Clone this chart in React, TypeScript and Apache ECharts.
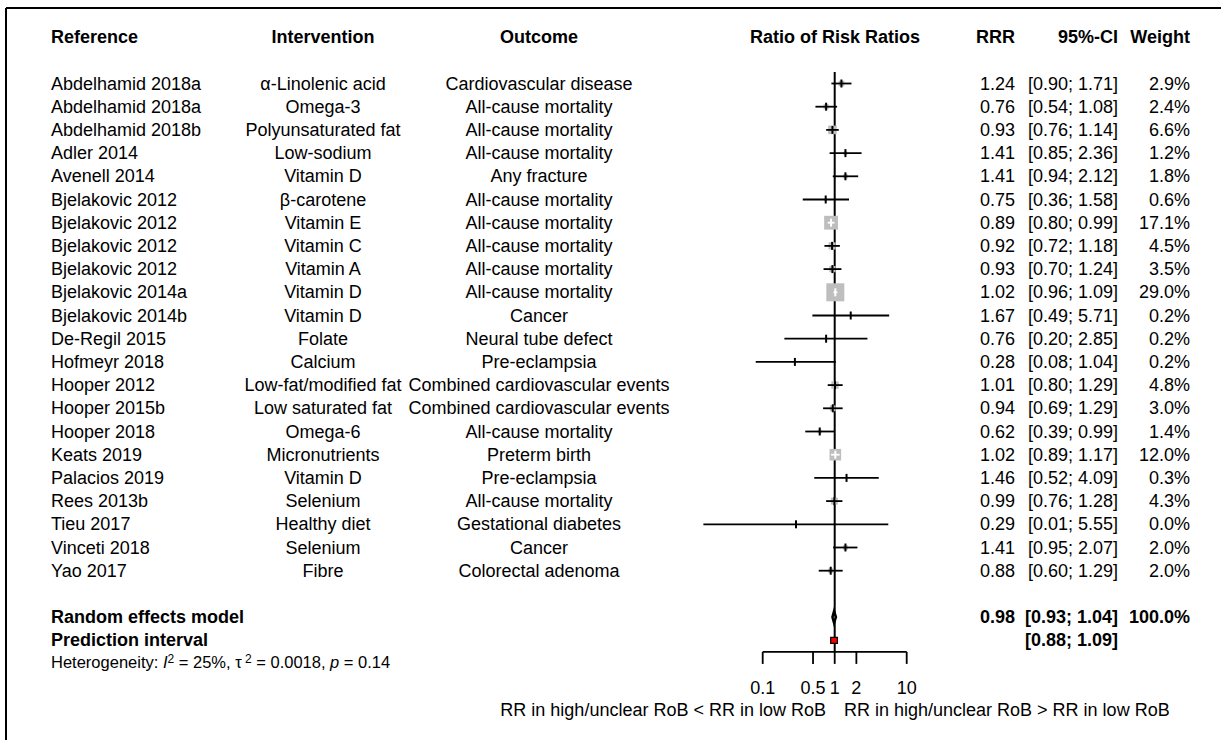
import React, { useEffect, useRef } from "react";
import * as echarts from "echarts";

// ---------- data ----------
const references = [
  "Abdelhamid 2018a", "Abdelhamid 2018a", "Abdelhamid 2018b", "Adler 2014", "Avenell 2014",
  "Bjelakovic 2012", "Bjelakovic 2012", "Bjelakovic 2012", "Bjelakovic 2012", "Bjelakovic 2014a",
  "Bjelakovic 2014b", "De-Regil 2015", "Hofmeyr 2018", "Hooper 2012", "Hooper 2015b",
  "Hooper 2018", "Keats 2019", "Palacios 2019", "Rees 2013b", "Tieu 2017", "Vinceti 2018", "Yao 2017",
];
const interventions = [
  "α-Linolenic acid", "Omega-3", "Polyunsaturated fat", "Low-sodium", "Vitamin D",
  "β-carotene", "Vitamin E", "Vitamin C", "Vitamin A", "Vitamin D",
  "Vitamin D", "Folate", "Calcium", "Low-fat/modified fat", "Low saturated fat",
  "Omega-6", "Micronutrients", "Vitamin D", "Selenium", "Healthy diet", "Selenium", "Fibre",
];
const outcomes = [
  "Cardiovascular disease", "All-cause mortality", "All-cause mortality", "All-cause mortality", "Any fracture",
  "All-cause mortality", "All-cause mortality", "All-cause mortality", "All-cause mortality", "All-cause mortality",
  "Cancer", "Neural tube defect", "Pre-eclampsia", "Combined cardiovascular events", "Combined cardiovascular events",
  "All-cause mortality", "Preterm birth", "Pre-eclampsia", "All-cause mortality", "Gestational diabetes", "Cancer", "Colorectal adenoma",
];
const rrr = [1.24, 0.76, 0.93, 1.41, 1.41, 0.75, 0.89, 0.92, 0.93, 1.02, 1.67, 0.76, 0.28, 1.01, 0.94, 0.62, 1.02, 1.46, 0.99, 0.29, 1.41, 0.88];
const ciLower = [0.90, 0.54, 0.76, 0.85, 0.94, 0.36, 0.80, 0.72, 0.70, 0.96, 0.49, 0.20, 0.08, 0.80, 0.69, 0.39, 0.89, 0.52, 0.76, 0.015, 0.95, 0.60];
const ciUpper = [1.71, 1.08, 1.14, 2.36, 2.12, 1.58, 0.99, 1.18, 1.24, 1.09, 5.71, 2.85, 1.04, 1.29, 1.29, 0.99, 1.17, 4.09, 1.28, 5.55, 2.07, 1.29];
const weights = [2.9, 2.4, 6.6, 1.2, 1.8, 0.6, 17.1, 4.5, 3.5, 29.0, 0.2, 0.2, 0.2, 4.8, 3.0, 1.4, 12.0, 0.3, 4.3, 0.0, 2.0, 2.0];

const pooledEstimate = 0.98;
const pooledCI = [0.93, 1.04];
const pooledWeight = 100.0;
const predictionInterval = [0.88, 1.09];
const heterogeneityI2 = "25%";
const heterogeneityTau2 = "0.0018";
const heterogeneityP = "0.14";

const axisTicks = [0.1, 0.5, 1, 2, 10];
const axisTickLabels = ["0.1", "0.5", "1", "2", "10"];
const headers = ["Reference", "Intervention", "Outcome", "Ratio of Risk Ratios", "RRR", "95%-CI", "Weight"];
const labelLeft = "RR in high/unclear RoB < RR in low RoB";
const labelRight = "RR in high/unclear RoB > RR in low RoB";

// ---------- layout ----------
const FONT = "'Liberation Sans', Arial, Helvetica, sans-serif";
const FS = 18;
const ROW_H = 23.2;
const GRID_TOP = 60.3;
const N_ROWS = 26;
const RANDOM_ROW = 24;
const PRED_ROW = 25;
const AXIS_ROW = 25.5;
const X_REF = 51;
const X_INT = 323;
const X_OUT = 539;
const X_PLOT = 835;
const X_RRR = 1015;
const X_CI = 1118;
const X_W = 1190;
const SQ_MAX = 18;
const W_MAX = 29.0;

const fmt2 = (v: number) => v.toFixed(2);
const fmtCI = (l: number, h: number) => `[${fmt2(l)}; ${fmt2(h)}]`;

function txt(text: string, x: number, y: number, align: string, bold = false, size = FS) {
  return {
    type: "text",
    x,
    y,
    silent: true,
    style: {
      text,
      fill: "#000",
      fontSize: size,
      fontFamily: FONT,
      fontWeight: bold ? "bold" : "normal",
      align,
      verticalAlign: "middle",
      textAlign: align,
      textVerticalAlign: "middle",
    },
  };
}

function buildOption() {
  const rowY = (r: number) => GRID_TOP + r * ROW_H;
  const studyData = references.map((_, i) => [rrr[i], i + 1, ciLower[i], ciUpper[i], weights[i]]);

  return {
    animation: false,
    backgroundColor: "#fff",
    grid: { left: 690.7, width: 288, top: GRID_TOP, height: N_ROWS * ROW_H },
    xAxis: { type: "log", logBase: 10, min: 0.01, max: 100, show: false },
    yAxis: { type: "value", min: 0, max: N_ROWS, inverse: true, show: false },
    graphic: [
      { type: "line", shape: { x1: 6, y1: 8, x2: 1221, y2: 8 }, style: { stroke: "#000", lineWidth: 2 } },
      { type: "line", shape: { x1: 6, y1: 8, x2: 6, y2: 740 }, style: { stroke: "#000", lineWidth: 2 } },
      txt(headers[0], X_REF, rowY(-1), "left", true),
      txt(headers[1], X_INT, rowY(-1), "center", true),
      txt(headers[2], X_OUT, rowY(-1), "center", true),
      txt(headers[3], X_PLOT, rowY(-1), "center", true),
      txt(headers[4], X_RRR, rowY(-1), "right", true),
      txt(headers[5], X_CI, rowY(-1), "right", true),
      txt(headers[6], X_W, rowY(-1), "right", true),
      txt("Random effects model", X_REF, rowY(RANDOM_ROW), "left", true),
      txt(fmt2(pooledEstimate), X_RRR, rowY(RANDOM_ROW), "right", true),
      txt(fmtCI(pooledCI[0], pooledCI[1]), X_CI, rowY(RANDOM_ROW), "right", true),
      txt(pooledWeight.toFixed(1) + "%", X_W, rowY(RANDOM_ROW), "right", true),
      txt("Prediction interval", X_REF, rowY(PRED_ROW), "left", true),
      txt(fmtCI(predictionInterval[0], predictionInterval[1]), X_CI, rowY(PRED_ROW), "right", true),
      {
        type: "text",
        x: X_REF,
        y: 662,
        silent: true,
        style: {
          text: `Heterogeneity: {it|I}{sup|2} = ${heterogeneityI2}, τ{sup| 2} = ${heterogeneityTau2}, {it|p} = ${heterogeneityP}`,
          fill: "#000",
          fontSize: 16.5,
          fontFamily: FONT,
          lineHeight: 18,
          align: "left",
          verticalAlign: "middle",
          textAlign: "left",
          textVerticalAlign: "middle",
          rich: {
            it: { fontStyle: "italic", fontSize: 16.5, fontFamily: FONT, lineHeight: 18 },
            sup: { fontSize: 12, fontFamily: FONT, lineHeight: 12, verticalAlign: "top" },
          },
        },
      },
      txt(labelLeft, 826, 710, "right"),
      txt(labelRight, 844, 710, "left"),
    ],
    series: [
      {
        type: "custom",
        name: "refline",
        clip: false,
        silent: true,
        data: [[1, 0.5, AXIS_ROW]],
        renderItem: (_p: any, api: any) => {
          const a = api.coord([api.value(0), api.value(1)]);
          const b = api.coord([api.value(0), api.value(2)]);
          return { type: "line", shape: { x1: a[0], y1: a[1], x2: b[0], y2: b[1] }, style: { stroke: "#000", lineWidth: 2 } };
        },
      },
      {
        type: "custom",
        name: "axis",
        clip: false,
        silent: true,
        data: axisTicks.map((v) => [v, AXIS_ROW]),
        renderItem: (p: any, api: any) => {
          const c = api.coord([api.value(0), api.value(1)]);
          const children: any[] = [
            { type: "line", shape: { x1: c[0], y1: c[1], x2: c[0], y2: c[1] + 12 }, style: { stroke: "#000", lineWidth: 1.8 } },
            txt(axisTickLabels[p.dataIndex], c[0], c[1] + 36, "center"),
          ];
          if (p.dataIndex === 0) {
            const e = api.coord([axisTicks[axisTicks.length - 1], api.value(1)]);
            children.push({ type: "line", shape: { x1: c[0], y1: c[1], x2: e[0], y2: e[1] }, style: { stroke: "#000", lineWidth: 1.8 } });
          }
          return { type: "group", children };
        },
      },
      {
        type: "custom",
        name: "studies",
        clip: false,
        silent: true,
        data: studyData,
        z: 3,
        renderItem: (p: any, api: any) => {
          const i = p.dataIndex;
          const est = api.value(0);
          const row = api.value(1);
          const [xe, y] = api.coord([est, row]);
          const [xl] = api.coord([api.value(2), row]);
          const [xh] = api.coord([api.value(3), row]);
          const s = SQ_MAX * Math.sqrt(api.value(4) / W_MAX);
          const inside = s > 0 && xl >= xe - s / 2 && xh <= xe + s / 2;
          const col = inside ? "#fff" : "#000";
          const children: any[] = [];
          if (s > 0) {
            children.push({ type: "rect", shape: { x: xe - s / 2, y: y - s / 2, width: s, height: s }, style: { fill: "#bebebe" } });
          }
          children.push({ type: "line", shape: { x1: xl, y1: y, x2: xh, y2: y }, style: { stroke: col, lineWidth: 1.8 } });
          children.push({ type: "line", shape: { x1: xe, y1: y - 4, x2: xe, y2: y + 4 }, style: { stroke: col, lineWidth: 2 } });
          children.push(txt(references[i], X_REF, y, "left"));
          children.push(txt(interventions[i], X_INT, y, "center"));
          children.push(txt(outcomes[i], X_OUT, y, "center"));
          children.push(txt(fmt2(rrr[i]), X_RRR, y, "right"));
          children.push(txt(fmtCI(ciLower[i], ciUpper[i]), X_CI, y, "right"));
          children.push(txt(weights[i].toFixed(1) + "%", X_W, y, "right"));
          return { type: "group", children };
        },
      },
      {
        type: "custom",
        name: "pooled",
        clip: false,
        silent: true,
        z: 3,
        data: [[pooledEstimate, RANDOM_ROW, pooledCI[0], pooledCI[1]]],
        renderItem: (_p: any, api: any) => {
          const row = api.value(1);
          const [xe, y] = api.coord([api.value(0), row]);
          const [xl] = api.coord([api.value(2), row]);
          const [xh] = api.coord([api.value(3), row]);
          return {
            type: "polygon",
            shape: { points: [[xl, y], [xe, y - 6], [xh, y], [xe, y + 6]] },
            style: { fill: "#bebebe", stroke: "#000", lineWidth: 2.5 },
          };
        },
      },
      {
        type: "custom",
        name: "prediction",
        clip: false,
        silent: true,
        z: 3,
        data: [[predictionInterval[0], PRED_ROW, predictionInterval[1]]],
        renderItem: (_p: any, api: any) => {
          const row = api.value(1);
          const [xl, y] = api.coord([api.value(0), row]);
          const [xh] = api.coord([api.value(2), row]);
          return {
            type: "rect",
            shape: { x: xl, y: y - 3, width: xh - xl, height: 6 },
            style: { fill: "#ff0000", stroke: "#000", lineWidth: 1.2 },
          };
        },
      },
    ],
  };
}

export default function App() {
  const ref = useRef<HTMLDivElement>(null);
  useEffect(() => {
    const chart = echarts.init(ref.current!, null, { renderer: "svg" });
    chart.setOption(buildOption() as any);
    return () => chart.dispose();
  }, []);
  return (
    <div
      ref={ref}
      style={{ position: "fixed", left: 0, top: 0, width: 1221, height: 740, background: "#fff" }}
    />
  );
}
